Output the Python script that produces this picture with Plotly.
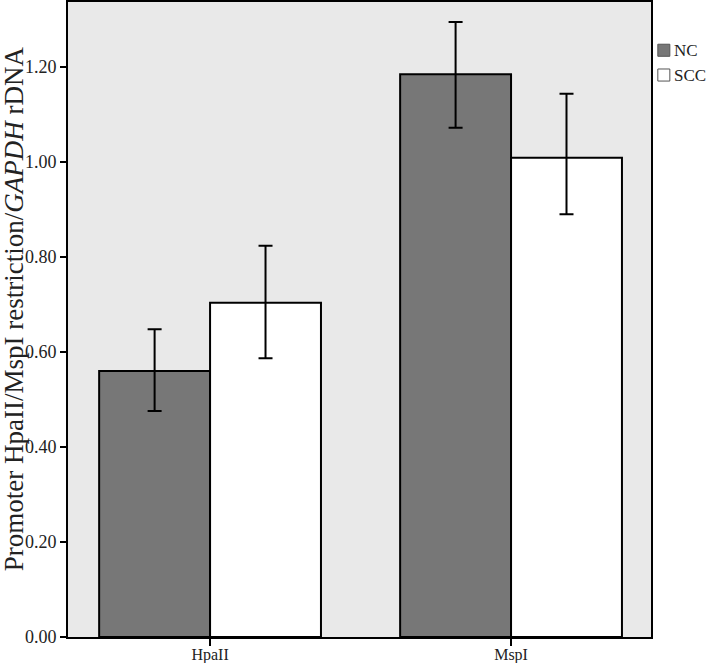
import plotly.graph_objects as go

enzymes = ["HpaII", "MspI"]
nc_values = [0.56, 1.185]
nc_upper = [0.648, 1.295]
nc_lower = [0.476, 1.072]
scc_values = [0.704, 1.009]
scc_upper = [0.824, 1.144]
scc_lower = [0.587, 0.890]

font = "Liberation Serif, Times New Roman, serif"
nc_color = "#777777"
scc_color = "white"


def err(vals, hi, lo):
    return dict(
        type="data", symmetric=False,
        array=[h - v for h, v in zip(hi, vals)],
        arrayminus=[v - l for v, l in zip(vals, lo)],
        color="black", thickness=2, width=7,
    )


fig = go.Figure()

fig.add_trace(go.Bar(
    x=enzymes, y=nc_values, name="NC",
    marker=dict(color=nc_color, line=dict(color="black", width=2)),
    error_y=err(nc_values, nc_upper, nc_lower),
))

fig.add_trace(go.Bar(
    x=enzymes, y=scc_values, name="SCC",
    marker=dict(color=scc_color, line=dict(color="black", width=2)),
    error_y=err(scc_values, scc_upper, scc_lower),
))

# legend drawn by hand, to the right of the frame
for i, (name, col) in enumerate([("NC", nc_color), ("SCC", scc_color)]):
    yc = 0.924 - i * 0.039
    fig.add_shape(type="rect", xref="paper", yref="paper",
                  x0=1.0117, x1=1.0323, y0=yc - 0.0095, y1=yc + 0.0095,
                  fillcolor=col, line=dict(color="#555555", width=1))
    fig.add_annotation(text=name, xref="paper", yref="paper",
                       x=1.036, y=yc, xanchor="left", yanchor="middle",
                       showarrow=False, font=dict(size=17, color="#222222"))

# y-axis title as a rotated annotation so it sits at the far left
fig.add_annotation(text="Promoter HpaII/MspI restriction/<i>GAPDH</i> rDNA",
                   xref="paper", yref="paper", x=-0.0935, y=0.517,
                   xanchor="center", yanchor="middle", textangle=-90,
                   showarrow=False, font=dict(size=27, color="#222222"))

fig.update_layout(
    width=709, height=663,
    margin=dict(l=68, r=58, t=2, b=26),
    barmode="group", bargap=0.263, bargroupgap=0,
    plot_bgcolor="#e9e9e9", paper_bgcolor="white",
    font=dict(family=font, size=18, color="#222222"),
    showlegend=False,
)

fig.update_xaxes(
    type="category", range=[-0.472, 1.465], automargin=False,
    showline=True, linecolor="black", linewidth=2, mirror=True,
    ticks="outside", ticklen=7, tickwidth=2, tickcolor="black",
    showgrid=False, tickfont=dict(size=16), ticklabelstandoff=-5,
)

fig.update_yaxes(
    range=[0, 1.337], tickvals=[0, 0.2, 0.4, 0.6, 0.8, 1.0, 1.2],
    tickformat=".2f", automargin=False,
    showline=True, linecolor="black", linewidth=2, mirror=True,
    ticks="outside", ticklen=6, tickwidth=2, tickcolor="black",
    showgrid=False, zeroline=False, tickfont=dict(size=18),
)

fig.write_html("out.html", config={"displayModeBar": False},
               post_script="document.body.style.margin='0';")
